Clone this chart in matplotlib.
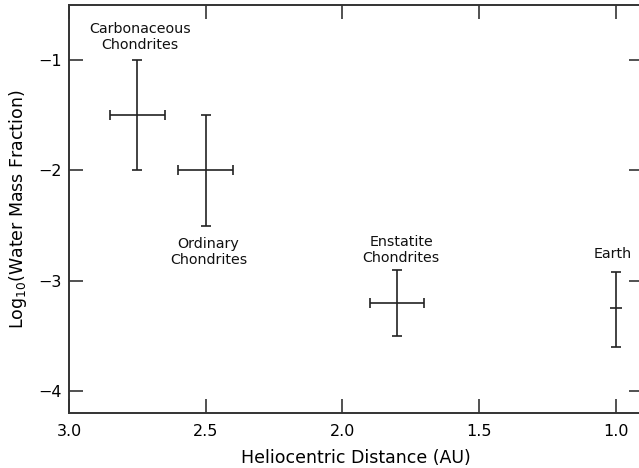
import matplotlib
matplotlib.use('Agg')
import matplotlib.pyplot as plt

names = ['Carbonaceous\nChondrites', 'Ordinary\nChondrites', 'Enstatite\nChondrites', 'Earth']
dist = [2.75, 2.5, 1.8, 1.0]
dist_err = [0.1, 0.1, 0.1, 0.0]
logw = [-1.5, -2.0, -3.2, -3.25]
logw_lo = [0.5, 0.5, 0.3, 0.35]
logw_hi = [0.5, 0.5, 0.3, 0.33]

label_x = [2.74, 2.49, 1.785, 1.01]
label_y = [-0.79, -2.74, -2.72, -2.76]

plt.rcParams['font.family'] = 'DejaVu Sans'
fig = plt.figure(figsize=(6.39, 4.68), dpi=100)
ax = fig.add_axes([69 / 639, 1 - 413 / 468, (643 - 69) / 639, (413 - 5) / 468])

col = '#222222'
for i in range(len(names)):
    xe = dist_err[i] if dist_err[i] > 0 else None
    ax.errorbar(dist[i], logw[i], xerr=xe, yerr=[[logw_lo[i]], [logw_hi[i]]],
                fmt='none', ecolor=col, elinewidth=1.2, capsize=3.5, capthick=1.2)
    if dist_err[i] == 0:
        ax.plot(dist[i], logw[i], marker='_', color=col, markersize=8, mew=1.2)
    ax.text(label_x[i], label_y[i], names[i], ha='center', va='center',
            fontsize=10.3, color='#111111', linespacing=1.2)

ax.set_xlim(3.0, 0.9)
ax.set_ylim(-4.2, -0.5)
ax.set_xticks([3.0, 2.5, 2.0, 1.5, 1.0])
ax.set_xticklabels(['3.0', '2.5', '2.0', '1.5', '1.0'])
ax.set_yticks([-1, -2, -3, -4])
ax.set_yticklabels(['\u22121', '\u22122', '\u22123', '\u22124'])
ax.tick_params(direction='in', length=10, width=1.2, color='#333333', labelsize=11.5,
               top=True, right=True)
ax.tick_params(axis='x', pad=8)
ax.tick_params(axis='y', pad=5)
for s in ax.spines.values():
    s.set_linewidth(1.4)
    s.set_color('#333333')

ax.set_xlabel('Heliocentric Distance (AU)', fontsize=12.5, labelpad=7)
ax.set_ylabel(r'Log$_{10}$(Water Mass Fraction)', fontsize=12.5, labelpad=7)

fig.savefig('out.png', dpi=100)
